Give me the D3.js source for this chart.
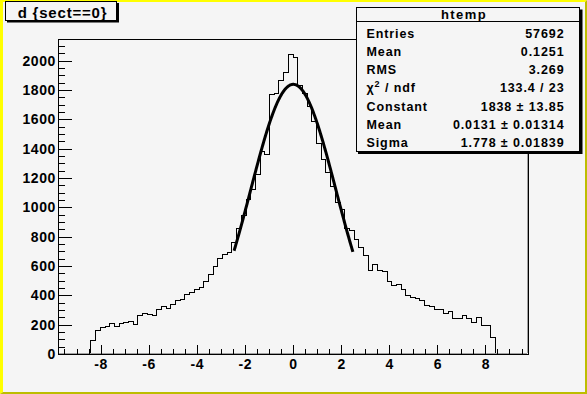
<!DOCTYPE html>
<html>
<head>
<meta charset="utf-8">
<script src="https://cdn.jsdelivr.net/npm/d3@7"></script>
<style>
  body { margin: 0; background: #f5f5f5; }
  svg { display: block; font-family: "Liberation Sans", Arial, Helvetica, sans-serif; font-weight: bold; }
</style>
</head>
<body>
<div id="chart"></div>
<script>
// histogram of d for sect==0 (htemp), 100 bins between xMin and xMax
const xMin = -9.77;
const xMax = 9.77;
const nBins = 100;
const firstBin = 7; // bins below this one are empty, so are the ones after the list
const counts = [
    90, 158, 178, 186, 207, 188, 208, 215, 221, 201,
    261, 275, 268, 262, 302, 323, 309, 338, 368, 370,
    403, 417, 437, 451, 494, 542, 594, 649, 676, 694,
    758, 858, 946, 1050, 1120, 1221, 1383, 1357, 1772, 1775,
    1865, 1921, 2040, 2022, 1832, 1775, 1688, 1585, 1433, 1326,
    1235, 1145, 1035, 985, 853, 842, 778, 724, 669, 567,
    608, 569, 562, 494, 467, 474, 440, 399, 383, 376,
    363, 331, 322, 306, 306, 276, 290, 240, 240, 260,
    240, 215, 247, 192, 192, 112
];
const yMax = 2147;
const xTicks = [-8, -6, -4, -2, 0, 2, 4, 6, 8];
const yTicks = [0, 200, 400, 600, 800, 1000, 1200, 1400, 1600, 1800, 2000];

// gaussian fit parameters, as printed in the stats box
const fitConstant = 1838;
const fitMean = 0.0131;
const fitSigma = 1.778;
const fitRange = [-2.45, 2.5];

// stats box rows
const statsTitle = "htemp";
const statLabels = ["Entries", "Mean", "RMS", "chi2", "Constant", "Mean", "Sigma"];
const statValues = ["57692", "0.1251", "3.269", "133.4 / 23", "1838 \u00b1 13.85", "0.0131 \u00b1 0.01314", "1.778 \u00b1 0.01839"];

const plotTitle = "d {sect==0}";

const width = 587;
const height = 394;
const frame = {left: 58, right: 528, top: 39, bottom: 354};
const bg = "#f5f5f5";

const svg = d3.select("#chart")
    .append("svg")
    .attr("width", width)
    .attr("height", height);

// canvas with its raised yellow border
svg.append("rect").attr("width", width).attr("height", height).attr("fill", bg);
svg.append("path")
    .attr("d", `M0,0H${width}L${width - 2},2H3V${height - 2}L0,${height}Z`)
    .attr("fill", "#ffff00");
svg.append("path")
    .attr("d", `M${width},0V${height}H0L3,${height - 2}H${width - 2}V2Z`)
    .attr("fill", "#bdbd00");

const xScale = d3.scaleLinear().domain([xMin, xMax]).range([frame.left, frame.right]);
const yScale = d3.scaleLinear().domain([0, yMax]).range([frame.bottom, frame.top]);

// histogram outline, drawn as steps
const binWidth = (xMax - xMin) / nBins;
const bins = d3.range(nBins).map(k => ({x0: xMin + k * binWidth, n: counts[k - firstBin] || 0}));
bins.push({x0: xMax, n: 0});

const histLine = d3.line()
    .x(d => xScale(d.x0))
    .y(d => yScale(d.n))
    .curve(d3.curveStepAfter);

svg.append("path")
    .datum(bins)
    .attr("fill", "none")
    .attr("stroke", "#000")
    .attr("stroke-width", 1)
    .attr("shape-rendering", "crispEdges")
    .attr("d", histLine);

// fitted gaussian
const fitPoints = d3.range(fitRange[0], fitRange[1] + 1e-9, 0.02)
    .map(x => ({x: x, y: fitConstant * Math.exp(-0.5 * Math.pow((x - fitMean) / fitSigma, 2))}));

svg.append("path")
    .datum(fitPoints)
    .attr("fill", "none")
    .attr("stroke", "#000")
    .attr("stroke-width", 3)
    .attr("stroke-linejoin", "round")
    .attr("d", d3.line().x(d => xScale(d.x)).y(d => yScale(d.y)));

// frame: black top, gray+black right and bottom
svg.append("path")
    .attr("d", `M${frame.left},${frame.top + 0.5}H${frame.right}`)
    .attr("stroke", "#000").attr("shape-rendering", "crispEdges");
svg.append("path")
    .attr("d", `M${frame.right - 0.5},${frame.top}V${frame.bottom - 1}M${frame.left + 1},${frame.bottom - 0.5}H${frame.right - 1}`)
    .attr("stroke", "#a0a0a0").attr("shape-rendering", "crispEdges");
svg.append("path")
    .attr("d", `M${frame.right + 0.5},${frame.top}V${frame.bottom + 1}`)
    .attr("stroke", "#000").attr("shape-rendering", "crispEdges");

// x axis, ticks pointing into the frame
const xMinor = d3.range(-9.5, 9.6, 0.5).filter(v => !xTicks.includes(v));
const xAxisG = svg.append("g")
    .attr("transform", `translate(0,${frame.bottom})`)
    .call(d3.axisBottom(xScale).tickValues(xTicks).tickSize(-9).tickSizeOuter(0)
        .tickPadding(5).tickFormat(d => String(d)));
svg.append("g")
    .attr("transform", `translate(0,${frame.bottom})`)
    .call(d3.axisBottom(xScale).tickValues(xMinor).tickSize(-5).tickSizeOuter(0).tickFormat(""))
    .select(".domain").remove();

// y axis
const yMinor = d3.range(50, yMax, 50).filter(v => v % 200 !== 0);
const yAxisG = svg.append("g")
    .attr("transform", `translate(${frame.left},0)`)
    .call(d3.axisLeft(yScale).tickValues(yTicks).tickSize(-14).tickSizeOuter(0)
        .tickPadding(2).tickFormat(d => String(d)));
svg.append("g")
    .attr("transform", `translate(${frame.left},0)`)
    .call(d3.axisLeft(yScale).tickValues(yMinor).tickSize(-7).tickSizeOuter(0).tickFormat(""))
    .select(".domain").remove();

svg.selectAll(".tick line, .domain").attr("shape-rendering", "crispEdges");
[xAxisG, yAxisG].forEach(g => {
    g.attr("font-family", null).attr("font-size", null);
    g.selectAll("text").attr("font-size", 14).attr("letter-spacing", 0.6);
});

// title box with shadow
svg.append("rect").attr("x", 7).attr("y", 3).attr("width", 112).attr("height", 19.5).attr("fill", "#000");
svg.append("rect").attr("x", 5.5).attr("y", 1.5).attr("width", 111).attr("height", 19)
    .attr("fill", bg).attr("stroke", "#000");
svg.append("text")
    .attr("x", 62.5).attr("y", 17.5)
    .attr("text-anchor", "middle")
    .attr("font-size", 15)
    .attr("letter-spacing", 0.8)
    .text(plotTitle);

// stats box
const box = {x: 356.5, y: 7.5, w: 223, h: 144};
svg.append("rect").attr("x", box.x + 1.5).attr("y", box.y + 2).attr("width", box.w + 1.5).attr("height", box.h + 0.5)
    .attr("fill", "#000");
svg.append("rect").attr("x", box.x).attr("y", box.y).attr("width", box.w).attr("height", box.h)
    .attr("fill", bg).attr("stroke", "#000").attr("shape-rendering", "crispEdges");
svg.append("path")
    .attr("d", `M${box.x},21.5H${box.x + box.w}`)
    .attr("stroke", "#000").attr("shape-rendering", "crispEdges");
svg.append("text")
    .attr("x", 464).attr("y", 19)
    .attr("text-anchor", "middle")
    .attr("font-size", 13)
    .attr("letter-spacing", 1.4)
    .text(statsTitle);

const rowY = i => 37.8 + 18.2 * i;
statLabels.forEach((label, i) => {
    const t = svg.append("text")
        .attr("x", 366.5).attr("y", rowY(i))
        .attr("font-size", 12.5)
        .attr("letter-spacing", 0.9);
    if (label === "chi2") {
        t.append("tspan").text("\u03c7");
        t.append("tspan").attr("font-size", 9).attr("dy", -5).text("2");
        t.append("tspan").attr("dy", 5).text(" / ndf");
    } else {
        t.text(label);
    }
});
statValues.forEach((value, i) => {
    svg.append("text")
        .attr("x", 564.5).attr("y", rowY(i))
        .attr("text-anchor", "end")
        .attr("font-size", 12.5)
        .attr("letter-spacing", 0.9)
        .text(value);
});
</script>
</body>
</html>
